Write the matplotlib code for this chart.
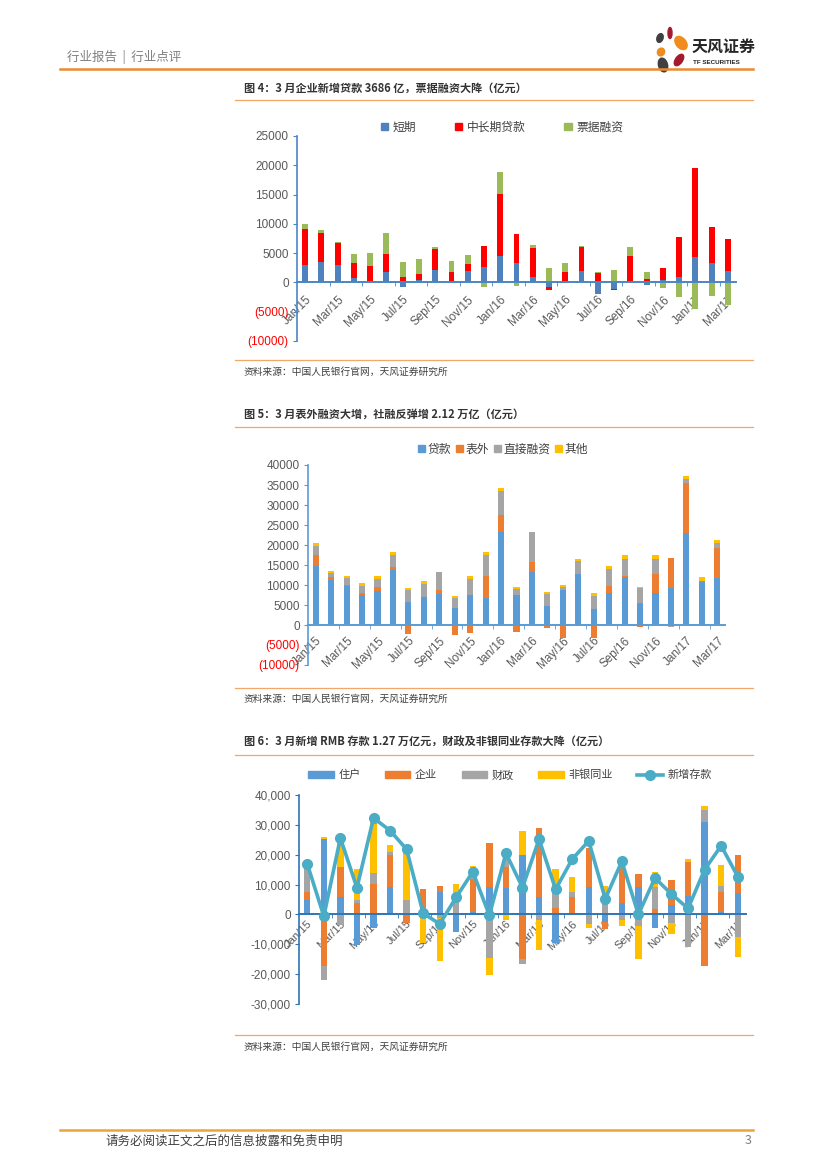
import numpy as np
import matplotlib
matplotlib.use('Agg')
import matplotlib.pyplot as plt
from matplotlib.lines import Line2D
from matplotlib.patches import Patch, Ellipse

plt.rcParams['font.family'] = ['Noto Sans CJK SC', 'DejaVu Sans']

W, H = 827, 1169

months = ['Jan/15', 'Feb/15', 'Mar/15', 'Apr/15', 'May/15', 'Jun/15', 'Jul/15', 'Aug/15', 'Sep/15',
          'Oct/15', 'Nov/15', 'Dec/15', 'Jan/16', 'Feb/16', 'Mar/16', 'Apr/16', 'May/16', 'Jun/16',
          'Jul/16', 'Aug/16', 'Sep/16', 'Oct/16', 'Nov/16', 'Dec/16', 'Jan/17', 'Feb/17', 'Mar/17']

# chart 1: enterprise loans (100m yuan)
short_term = [3000, 3500, 3000, 700, 300, 1800, -800, 350, 2150, 300, 1900, 2650, 4550, 3300, 850,
              -850, 150, 1950, -2000, -1150, 150, -450, 450, 850, 4350, 3300, 1900]
mid_long = [6050, 5000, 3700, 2700, 2500, 3100, 1000, 1150, 3500, 1450, 1300, 3500, 10500, 5000, 5100,
            -500, 1650, 4100, 1550, -150, 4300, 650, 2000, 6900, 15150, 6100, 5550]
bill = [950, 500, 200, 1400, 2300, 3550, 2550, 2500, 350, 1900, 1450, -700, 3800, -600, 450,
        2400, 1550, 100, 300, 2200, 1550, 1150, -1000, -2550, -4550, -2400, -3900]

# chart 2: total social financing
loans = [14750, 11200, 9800, 7500, 8500, 13650, 5850, 7000, 7700, 4250, 7500, 6850, 23350, 7400, 13150,
         4750, 8850, 12850, 4100, 8000, 12000, 5600, 8100, 9350, 23100, 10650, 11700]
off_balance = [2750, 800, 150, 400, 1100, 900, -2150, 100, 1150, -2500, -2000, 5400, 4150, -1650, 2600,
               -850, -3350, -150, -3150, 1750, 150, -550, 4750, 7500, 12300, 350, 7550]
direct_fin = [2250, 1100, 1700, 1950, 2000, 2900, 2850, 3150, 4400, 2400, 4000, 5250, 6000, 1500, 7600,
              2900, 550, 3150, 3150, 4150, 4400, 3550, 3750, -500, 1100, -250, 1150]
other_fin = [650, 400, 650, 650, 650, 750, 600, 650, -200, 600, 650, 750, 750, 600, 0,
             600, 600, 400, 850, 850, 850, 350, 900, 0, 800, 1000, 850]

# chart 3: new RMB deposits
household = [4700, 25300, 5700, -10300, -4500, 9300, 200, 0, 7400, -6000, 700, 9100, 9000, 19900, 5700,
             -9500, 400, 9300, -2500, 3900, 9300, -4700, 3100, 6200, 31100, 900, 7100]
enterprise = [2900, -17200, 10300, 3900, 10200, 10600, -2800, 8500, 2100, 0, 11000, 14900, 7000, -14800,
              23400, 2000, 5500, 12800, -2500, 12700, 4100, 1800, 8400, 11500, -17400, 6600, 12900]
fiscal = [7500, -4800, -3400, 1100, 3700, 1100, 4700, -1300, -1300, 6200, 2500, -14600, 2800, -1700,
          -1700, 5500, 1600, -3200, 4800, -1700, -3800, 7500, -3000, -10800, 3900, 2000, -7700]
nonbank = [700, 600, 8500, 10300, 17500, 2200, 18300, -8400, -14200, 4000, 1900, -5800, -2000, 8200,
           -10100, 7800, 5100, -1200, 4700, -2100, -11000, 4800, -3400, 900, 1400, 7000, -6700]
new_deposits = [16900, -600, 25600, 8900, 32300, 28100, 21800, 400, -3200, 5800, 14300, -300, 20500, 9000,
                25200, 8400, 18500, 24600, 5200, 17800, 0, 12200, 6800, 2000, 15000, 23000, 12700]

x = np.arange(len(months))
TICK_GREY = '#595959'


def box(l, t, r, b):
    return [l / W, 1 - b / H, (r - l) / W, (b - t) / H]


def fy(y):
    return 1 - y / H


def hline(fig, x0, x1, y, color, lw):
    fig.add_artist(Line2D([x0 / W, x1 / W], [fy(y), fy(y)], transform=fig.transFigure, color=color, lw=lw))


def stack_bars(ax, series, colors, width):
    pos = np.zeros(len(x))
    neg = np.zeros(len(x))
    for vals, c in zip(series, colors):
        v = np.array(vals, float)
        bottom = np.where(v >= 0, pos, neg)
        ax.bar(x, v, width, bottom=bottom, color=c, linewidth=0, zorder=2)
        pos += np.where(v >= 0, v, 0)
        neg += np.where(v < 0, v, 0)


def style_axes(ax, axis_color, ylim, yticks, ylabels, neg_red, label_pad, fs):
    ax.set_xlim(-0.5, 26.5)
    ax.set_ylim(*ylim)
    ax.patch.set_alpha(0)
    for s in ['top', 'right']:
        ax.spines[s].set_visible(False)
    ax.spines['left'].set_color(axis_color)
    ax.spines['bottom'].set_color(axis_color)
    ax.spines['left'].set_linewidth(1.2)
    ax.spines['bottom'].set_linewidth(1.4)
    ax.spines['bottom'].set_position(('data', 0))
    ax.spines['bottom'].set_zorder(3)
    ax.set_yticks(yticks)
    ax.set_yticklabels(ylabels, fontsize=8.5, family='Liberation Sans')
    ax.tick_params(axis='y', color=axis_color, length=3, labelcolor=TICK_GREY, pad=3)
    if neg_red:
        for t, v in zip(ax.get_yticklabels(), yticks):
            if v < 0:
                t.set_color('#FF0000')
    ax.set_xticks(x[::2])
    ax.set_xticklabels(months[::2], fontsize=fs, family='Liberation Sans', color=TICK_GREY)
    plt.setp(ax.get_xticklabels(), rotation=45, ha='right', va='top', rotation_mode='anchor')
    ax.set_xticks(np.arange(1.5, 26, 2), minor=True)
    ax.tick_params(axis='x', which='major', length=0, pad=label_pad)
    ax.tick_params(axis='x', which='minor', length=3, color=axis_color, direction='out')


fig = plt.figure(figsize=(W / 100, H / 100), dpi=100)

# page header
fig.text(67 / W, fy(57), '行业报告  |  行业点评', fontsize=9, color='#7F7F7F', va='center')
hline(fig, 60, 753, 69, '#EB8A2F', 1.8)
logo = fig.add_axes(box(648, 24, 692, 74))
logo.set_xlim(648, 692)
logo.set_ylim(74, 24)
logo.axis('off')
for cx, cy, w, h, ang, col in [(660, 38, 6, 9, 20, '#3F3F3F'), (670, 33, 4, 11, 0, '#A5192E'),
                               (681, 43, 10, 15, -40, '#F08C1E'), (661, 52, 7, 8, 30, '#F08C1E'),
                               (679, 60, 7, 13, 35, '#A5192E'), (663, 65, 9, 14, -15, '#404040')]:
    logo.add_patch(Ellipse((cx, cy), w, h, angle=ang, color=col))
fig.text(692 / W, fy(47), '天风证券', fontsize=11.5, fontweight='bold', color='#262626', va='center')
fig.text(693 / W, fy(63), 'TF SECURITIES', fontsize=4.5, fontweight='bold', color='#262626',
         va='center', family='Liberation Sans')

# chart 1
fig.text(244 / W, fy(88), '图 4：3 月企业新增贷款 3686 亿，票据融资大降（亿元）', fontsize=8,
         fontweight='bold', color='#333333', va='center')
hline(fig, 235, 753, 100, '#F2A766', 0.9)
ax1 = fig.add_axes(box(297, 136, 736, 341))
stack_bars(ax1, [short_term, mid_long, bill], ['#4F81BD', '#FF0000', '#9BBB59'], 0.36)
style_axes(ax1, '#4A86C5', (-10000, 25000), list(range(-10000, 25001, 5000)),
           ['(10000)', '(5000)', '0', '5000', '10000', '15000', '20000', '25000'], True, 8, 8.5)
h1 = [Patch(color=c) for c in ['#4F81BD', '#FF0000', '#9BBB59']]
ax1.legend(h1, ['短期', '中长期贷款', '票据融资'], loc='center', bbox_to_anchor=(502 / W, fy(127)),
           bbox_transform=fig.transFigure, ncol=3, frameon=False, fontsize=8.5, handlelength=0.6,
           handleheight=0.6, handletextpad=0.4, columnspacing=3.3, labelcolor='#404040')
hline(fig, 235, 753, 360, '#F2A766', 0.9)
fig.text(244 / W, fy(372), '资料来源：中国人民银行官网，天风证券研究所', fontsize=7, color='#404040', va='center')

# chart 2
fig.text(244 / W, fy(414), '图 5：3 月表外融资大增，社融反弹增 2.12 万亿（亿元）', fontsize=8,
         fontweight='bold', color='#333333', va='center')
hline(fig, 235, 753, 427, '#F2A766', 0.9)
ax2 = fig.add_axes(box(308, 465, 725, 665))
stack_bars(ax2, [loans, off_balance, direct_fin, other_fin], ['#5B9BD5', '#ED7D31', '#A5A5A5', '#FFC000'], 0.4)
style_axes(ax2, '#5B9BD5', (-10000, 40000), list(range(-10000, 40001, 5000)),
           ['(10000)', '(5000)', '0', '5000', '10000', '15000', '20000', '25000', '30000', '35000', '40000'],
           True, 7, 8.5)
h2 = [Patch(color=c) for c in ['#5B9BD5', '#ED7D31', '#A5A5A5', '#FFC000']]
ax2.legend(h2, ['贷款', '表外', '直接融资', '其他'], loc='center', bbox_to_anchor=(503 / W, fy(449)),
           bbox_transform=fig.transFigure, ncol=4, frameon=False, fontsize=8.5, handlelength=0.6,
           handleheight=0.6, handletextpad=0.2, columnspacing=0.4, labelcolor='#404040')
hline(fig, 235, 753, 688, '#F2A766', 0.9)
fig.text(244 / W, fy(699), '资料来源：中国人民银行官网，天风证券研究所', fontsize=7, color='#404040', va='center')

# chart 3
fig.text(244 / W, fy(741), '图 6：3 月新增 RMB 存款 1.27 万亿元，财政及非银同业存款大降（亿元）', fontsize=8,
         fontweight='bold', color='#333333', va='center')
hline(fig, 235, 753, 755, '#F2A766', 0.9)
ax3 = fig.add_axes(box(299, 795, 746, 1004))
stack_bars(ax3, [household, enterprise, fiscal, nonbank], ['#5B9BD5', '#ED7D31', '#A5A5A5', '#FFC000'], 0.38)
ax3.plot(x, new_deposits, color='#4BACC6', lw=2.6, marker='o', ms=7, zorder=4)
style_axes(ax3, '#2E75B6', (-30000, 40000), list(range(-30000, 40001, 10000)),
           ['-30,000', '-20,000', '-10,000', '0', '10,000', '20,000', '30,000', '40,000'], False, 3, 8)
h3 = [Patch(color=c) for c in ['#5B9BD5', '#ED7D31', '#A5A5A5', '#FFC000']]
h3.append(Line2D([], [], color='#4BACC6', lw=2.6, marker='o', ms=7))
ax3.legend(h3, ['住户', '企业', '财政', '非银同业', '新增存款'], loc='center', bbox_to_anchor=(510 / W, fy(775)),
           bbox_transform=fig.transFigure, ncol=5, frameon=False, fontsize=8, handlelength=2.3,
           handleheight=0.5, handletextpad=0.4, columnspacing=2.2, labelcolor='#404040')
hline(fig, 235, 753, 1035, '#F2A766', 0.9)
fig.text(244 / W, fy(1047), '资料来源：中国人民银行官网，天风证券研究所', fontsize=7, color='#404040', va='center')

# page footer
hline(fig, 60, 753, 1130, '#E9A43A', 1.8)
fig.text(105 / W, fy(1141), '请务必阅读正文之后的信息披露和免责申明', fontsize=9, color='#404040', va='center')
fig.text(752 / W, fy(1141), '3', fontsize=9, color='#7F7F7F', va='center', ha='right')

fig.savefig('out.png', dpi=100)
